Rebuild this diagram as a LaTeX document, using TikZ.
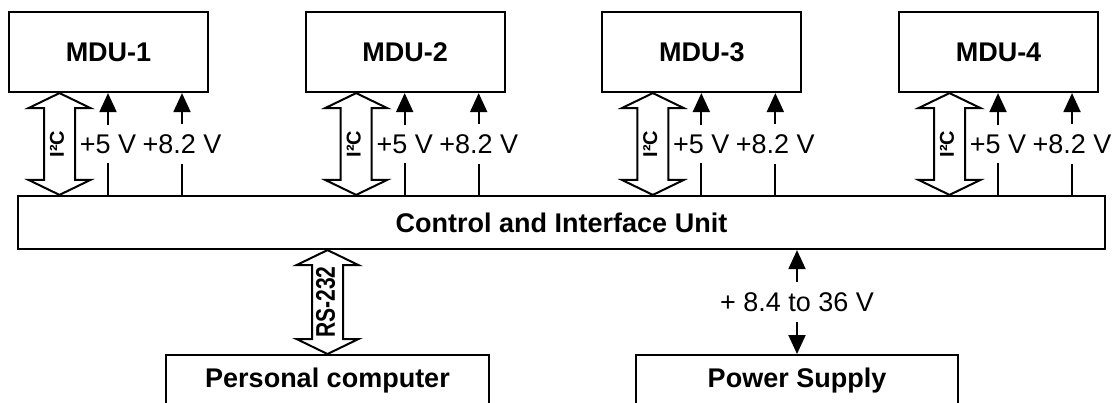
\documentclass[tikz,border=0pt]{standalone}
\usepackage{fontspec}
\usepackage{graphicx}
\setmainfont{Liberation Sans}
\usetikzlibrary{arrows.meta,calc}
\newcommand{\dblarrow}[3]{%
  \draw[hollowarrow] (#1) -- ($(#1)+(31,#3)$) -- ($(#1)+(15.5,#3)$) -- ($(#2)+(15.5,-#3)$) -- ($(#2)+(31,-#3)$) -- (#2) -- ($(#2)+(-31,-#3)$) -- ($(#2)+(-15.5,-#3)$) -- ($(#1)+(-15.5,#3)$) -- ($(#1)+(-31,#3)$) -- cycle;}
\begin{document}
\begin{tikzpicture}[x=1pt,y=-1pt,
  box/.style={draw, line width=2.2pt, rectangle, inner sep=0pt, font=\bfseries\fontsize{27}{32}\selectfont},
  openbox/.style={box, anchor=north, text height=19.3pt, text depth=50pt, inner ysep=13pt},
  hollowarrow/.style={draw, line width=2pt, fill=white, line join=miter},
  varrow/.style={line width=2pt, -{Triangle[width=17pt,length=19pt]}},
  parrow/.style={line width=2pt, {Triangle[width=17pt,length=19pt]}-{Triangle[width=17pt,length=19pt]}},
  vlabel/.style={fill=white, inner xsep=0pt, inner ysep=10pt, font=\fontsize{27}{32}\selectfont},
  buslabel/.style={rotate=90, inner sep=0pt, font=\bfseries\fontsize{20}{24}\selectfont}]
\useasboundingbox (0,0) rectangle (1113,403);
\fill[white] (0,0) rectangle (1113,403);
\clip (0,0) rectangle (1113,403);

% units
\foreach \i in {1,...,4} {
  \node[box, minimum width=199pt, minimum height=80pt] (mdu\i) at ({108.5+296.67*(\i-1)},52) {MDU-\i};
}
\node[box, minimum width=1087pt, minimum height=53pt] (cu) at (561.5,222.5) {Control and Interface Unit};
\node[openbox, minimum width=323pt] (pc) at (327.5,354) {Personal computer};
\node[openbox, minimum width=322pt] (ps) at (797,354) {Power Supply};

% MDU connections
\foreach \i in {1,...,4} {
  \coordinate (iT\i) at ($(mdu\i.south)+(-49,0)$);
  \coordinate (iB\i) at (iT\i |- cu.north);
  \dblarrow{iT\i}{iB\i}{15}
  \node[buslabel] (i2c\i) at ($(iT\i)!0.5!(iB\i)+(-2.5,0)$) {I²C};
  \coordinate (vA\i) at ($(mdu\i.south)+(-0.5,0)$);
  \coordinate (vB\i) at ($(mdu\i.south)+(73.5,0)$);
  \draw[varrow] (vA\i |- cu.north) -- node[vlabel] {+5 V} (vA\i);
  \draw[varrow] (vB\i |- cu.north) -- node[vlabel] {+8.2 V} (vB\i);
}

% RS-232
\coordinate (rsT) at (cu.south -| pc.north);
\coordinate (rsB) at (pc.north);
\dblarrow{rsT}{rsB}{15}
\node[rotate=90, inner sep=0pt, font=\bfseries\fontsize{27}{32}\selectfont] (rs) at ($(rsT)!0.5!(rsB)+(-2,0)$) {\scalebox{0.78}[1]{RS-232}};

% Power
\draw[parrow] (ps.north) -- node[vlabel] {+ 8.4 to 36 V} (cu.south -| ps.north);
\end{tikzpicture}
\end{document}
